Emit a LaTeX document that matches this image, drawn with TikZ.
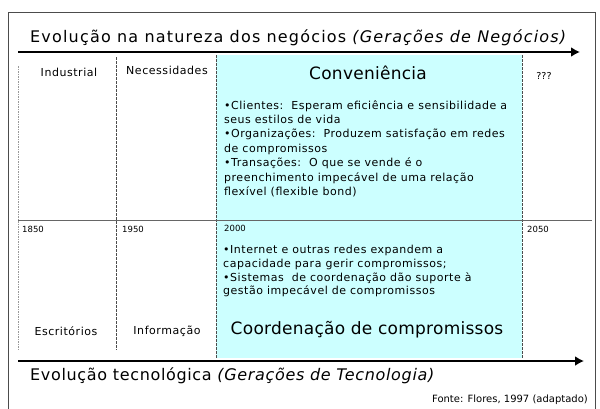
\documentclass[tikz,border=0pt]{standalone}
\usepackage{fontspec}
\setmainfont{DejaVu Sans}
\newfontfamily\ttlfont[LetterSpace=7.4]{DejaVu Sans}
\newfontfamily\tecfont[LetterSpace=4.1]{DejaVu Sans}
\newfontfamily\bodyfont[LetterSpace=4.7]{DejaVu Sans}
\newfontfamily\erafont[LetterSpace=5.0]{DejaVu Sans}
\newfontfamily\bigfont[LetterSpace=1.5]{DejaVu Sans}
\usetikzlibrary{arrows.meta}
\definecolor{bandcyan}{RGB}{204,255,255}
\begin{document}
\begin{tikzpicture}[x=1pt,y=-1pt,
  frame/.style={draw=black!70,line width=0.8pt},
  axis/.style={draw=black,line width=2.2pt,-{Latex[length=9pt,width=10pt]}},
  divider/.style={draw=black!70,line width=0.5pt,dash pattern=on 2.5pt off 1.5pt},
  divlight/.style={draw=black!40,line width=0.7pt,dash pattern=on 1.5pt off 1pt},
  era/.style={font=\erafont\fontsize{11}{13}\selectfont,inner sep=0pt},
  big/.style={font=\bigfont\fontsize{17}{20}\selectfont,inner sep=0pt},
  year/.style={font=\fontsize{8.5}{10}\selectfont,inner sep=0pt,anchor=base west},
  body/.style={font=\bodyfont\fontsize{11}{14.4}\selectfont,inner sep=0pt,align=left,anchor=north west},
  body2/.style={font=\bodyfont\fontsize{11}{13.8}\selectfont,inner sep=0pt,align=left,anchor=north west},
  axislabel/.style={inner sep=0pt,anchor=base west}
]
\useasboundingbox (0,0) rectangle (600,408);
% cyan band
\fill[bandcyan] (216,55) rectangle (522,358);
% frame
\draw[frame] (8,420) -- (8,12) -- (595,12) -- (595,420);
% dividers
\coordinate (d0t) at (18,66); \coordinate (d0b) at (18,350);
\coordinate (d1t) at (116,57); \coordinate (d1b) at (116,350);
\coordinate (d2t) at (216,55); \coordinate (d2b) at (216,358);
\coordinate (d3t) at (522,55); \coordinate (d3b) at (522,358);
\draw[divlight] (d0t) -- (d0b);
\draw[divider] (d1t) -- (d1b);
\draw[divider] (d2t) -- (d2b);
\draw[divider] (d3t) -- (d3b);
% mid line
\coordinate (ml) at (18,220.5); \coordinate (mr) at (592,220.5);
\draw[draw=black!60,line width=0.9pt] (ml) -- (mr);
% axes
\coordinate (a1s) at (18,52); \coordinate (a1e) at (580,52);
\coordinate (a2s) at (18,361); \coordinate (a2e) at (584,361);
\draw[axis] (a1s) -- (a1e);
\draw[axis] (a2s) -- (a2e);
\node[axislabel,font=\ttlfont\fontsize{16}{18}\selectfont] (t1) at (30,42) {Evolução na natureza dos negócios \textit{(Gerações de Negócios)}};
\node[axislabel,font=\tecfont\fontsize{16}{18}\selectfont] (t2) at (30,380) {Evolução tecnológica \textit{(Gerações de Tecnologia)}};
\node[font=\fontsize{10}{12}\selectfont,inner sep=0pt,anchor=base east] (src) at (588,402) {Fonte: Flores, 1997 (adaptado)};
% eras top
\node[era] (ind) at (69,72) {Industrial};
\node[era] (nec) at (167,70) {Necessidades};
\node[big] (conv) at (368,73) {Conveniência};
\node[font=\fontsize{9.5}{11}\selectfont,inner sep=0pt] (q) at (544,76) {???};
\node[body] (b1) at (224,100) {•Clientes:\ \ Esperam eficiência e sensibilidade a\\seus estilos de vida\\•Organizações:\ \ Produzem satisfação em redes\\de compromissos\\•Transações:\ \ O que se vende é o\\preenchimento impecável de uma relação\\flexível (flexible bond)};
% years
\node[year] (y1) at (22,232) {1850};
\node[year] (y2) at (122,232) {1950};
\node[year] (y3) at (224,231) {2000};
\node[year] (y4) at (527,232) {2050};
\node[body2] (b2) at (223,245) {•Internet e outras redes expandem a\\capacidade para gerir compromissos;\\•Sistemas\ \ de coordenação dão suporte à\\gestão impecável de compromissos};
% eras bottom
\node[era] (esc) at (66,331) {Escritórios};
\node[era] (inf) at (167,331) {Informação};
\node[big] (coord) at (367,330) {Coordenação de compromissos};
\end{tikzpicture}
\end{document}
